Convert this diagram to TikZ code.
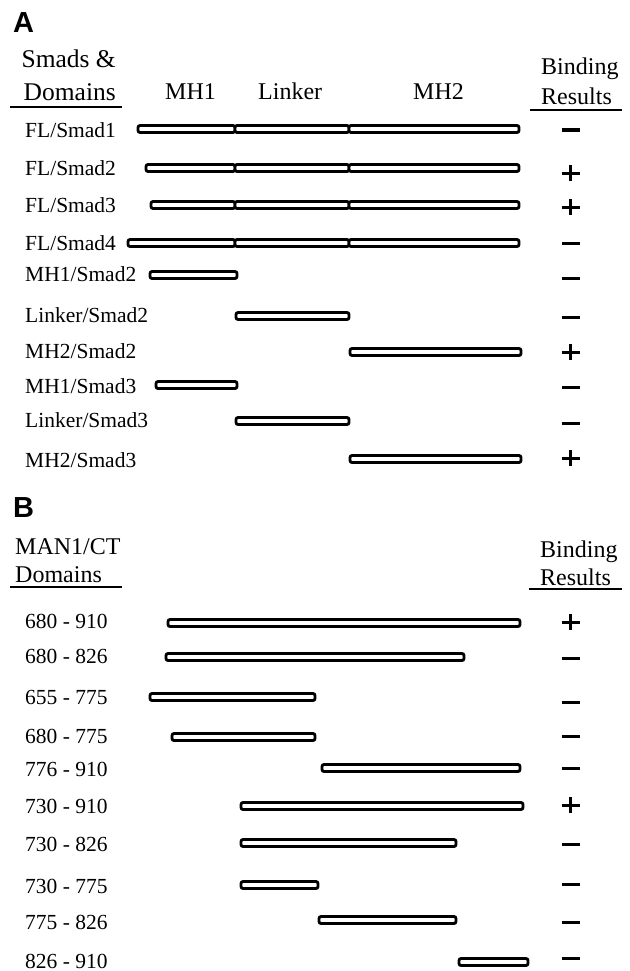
\documentclass[tikz,border=0pt]{standalone}
\usepackage{fontspec}
\setmainfont{Liberation Serif}
\setsansfont{Liberation Sans}

\tikzset{
  lbl/.style={anchor=base west, inner sep=0pt, font=\fontsize{21.5}{24}\selectfont},
  hdr/.style={anchor=base west, inner sep=0pt, font=\fontsize{24}{26}\selectfont},
  panel/.style={anchor=base west, inner sep=0pt, font=\fontsize{29}{31}\selectfont\sffamily\bfseries},
  bar/.style={line width=2.8pt, rounded corners=2pt, fill=white},
  sign/.style={line width=3pt},
  rule/.style={line width=1.6pt}
}

\begin{document}
\begin{tikzpicture}[x=1pt, y=-1pt]
  \useasboundingbox (0,0) rectangle (629,971);

  % A

  \node [panel] (panA) at (13,33) {A};
  \node [hdr, anchor=base east, font=\fontsize{25.5}{27}\selectfont] (smads) at (116,68) {Smads \&};
  \node [hdr, anchor=base east, font=\fontsize{25.5}{27}\selectfont] (domA) at (116,101) {Domains};
  \draw [rule] (10,107) -- (122,107);
  \node [hdr] (mh1) at (165,100) {MH1};
  \node [hdr] (linker) at (258,100) {Linker};
  \node [hdr] (mh2) at (413,100) {MH2};
  \node [hdr] (bindA) at (541,75) {Binding};
  \node [hdr] (resA) at (541,105) {Results};
  \draw [rule] (530,110) -- (622,110);

  \node [lbl] (fl1) at (25,137) {FL/Smad1};
  \node [lbl] (fl2) at (25,175) {FL/Smad2};
  \node [lbl] (fl3) at (25,212) {FL/Smad3};
  \node [lbl] (fl4) at (25,250) {FL/Smad4};
  \node [lbl] (mhA) at (25,281) {MH1/Smad2};
  \node [lbl] (lkA) at (25,322) {Linker/Smad2};
  \node [lbl] (mhB) at (25,358) {MH2/Smad2};
  \node [lbl] (mhC) at (25,393) {MH1/Smad3};
  \node [lbl] (lkB) at (25,427) {Linker/Smad3};
  \node [lbl] (mhD) at (25,467) {MH2/Smad3};

  \draw [bar] (138,125.5) rectangle (235,132.5);
  \draw [bar] (235,125.5) rectangle (349,132.5);
  \draw [bar] (349,125.5) rectangle (519,132.5);

  \draw [bar] (146,164.5) rectangle (235,171.5);
  \draw [bar] (235,164.5) rectangle (349,171.5);
  \draw [bar] (349,164.5) rectangle (519,171.5);

  \draw [bar] (151,201.5) rectangle (235,208.5);
  \draw [bar] (235,201.5) rectangle (349,208.5);
  \draw [bar] (349,201.5) rectangle (519,208.5);

  \draw [bar] (128,239.5) rectangle (235,246.5);
  \draw [bar] (235,239.5) rectangle (349,246.5);
  \draw [bar] (349,239.5) rectangle (519,246.5);

  \draw [bar] (150,271.5) rectangle (237,278.5);
  \draw [bar] (236,312.5) rectangle (349,319.5);
  \draw [bar] (350,348.5) rectangle (521,355.5);
  \draw [bar] (156,381.5) rectangle (237,388.5);
  \draw [bar] (236,417.5) rectangle (349,424.5);
  \draw [bar] (350,455.5) rectangle (521,462.5);

  \draw [sign] (561.5,130) -- (579.5,130);
  \draw [sign] (561.5,173) -- (579.5,173) (570.5,165) -- (570.5,181);
  \draw [sign] (561.5,207) -- (579.5,207) (570.5,199) -- (570.5,215);
  \draw [sign] (561.5,243) -- (579.5,243);
  \draw [sign] (561.5,278) -- (579.5,278);
  \draw [sign] (561.5,317) -- (579.5,317);
  \draw [sign] (561.5,352) -- (579.5,352) (570.5,344) -- (570.5,360);
  \draw [sign] (561.5,387) -- (579.5,387);
  \draw [sign] (561.5,423) -- (579.5,423);
  \draw [sign] (561.5,458) -- (579.5,458) (570.5,450) -- (570.5,466);

  % B

  \node [panel] (panB) at (13,517) {B};
  \node [hdr] (man1) at (15,554) {MAN1/CT};
  \node [hdr] (domB) at (15,582) {Domains};
  \draw [rule] (10,587) -- (122,587);
  \node [hdr] (bindB) at (540,557) {Binding};
  \node [hdr] (resB) at (540,585) {Results};
  \draw [rule] (529,589) -- (622,589);

  \node [lbl] (r1) at (25,628) {680 - 910};
  \node [lbl] (r2) at (25,663) {680 - 826};
  \node [lbl] (r3) at (25,704) {655 - 775};
  \node [lbl] (r4) at (25,743) {680 - 775};
  \node [lbl] (r5) at (25,776) {776 - 910};
  \node [lbl] (r6) at (25,813) {730 - 910};
  \node [lbl] (r7) at (25,851) {730 - 826};
  \node [lbl] (r8) at (25,893) {730 - 775};
  \node [lbl] (r9) at (25,929) {775 - 826};
  \node [lbl] (r10) at (25,968) {826 - 910};

  \draw [bar] (168,619.5) rectangle (520,626.5);
  \draw [bar] (166,653.5) rectangle (464,660.5);
  \draw [bar] (150,693.5) rectangle (315,700.5);
  \draw [bar] (172,733.5) rectangle (315,740.5);
  \draw [bar] (322,764.5) rectangle (520,771.5);
  \draw [bar] (241,802.5) rectangle (523,809.5);
  \draw [bar] (241,839.5) rectangle (456,846.5);
  \draw [bar] (241,881.5) rectangle (318,888.5);
  \draw [bar] (319,916.5) rectangle (456,923.5);
  \draw [bar] (459,958.5) rectangle (528,965.5);

  \draw [sign] (561.5,622) -- (579.5,622) (570.5,614) -- (570.5,630);
  \draw [sign] (561.5,658) -- (579.5,658);
  \draw [sign] (561.5,702) -- (579.5,702);
  \draw [sign] (561.5,736) -- (579.5,736);
  \draw [sign] (561.5,768) -- (579.5,768);
  \draw [sign] (561.5,805) -- (579.5,805) (570.5,797) -- (570.5,813);
  \draw [sign] (561.5,844) -- (579.5,844);
  \draw [sign] (561.5,884) -- (579.5,884);
  \draw [sign] (561.5,922) -- (579.5,922);
  \draw [sign] (561.5,958) -- (579.5,958);

\end{tikzpicture}
\end{document}
